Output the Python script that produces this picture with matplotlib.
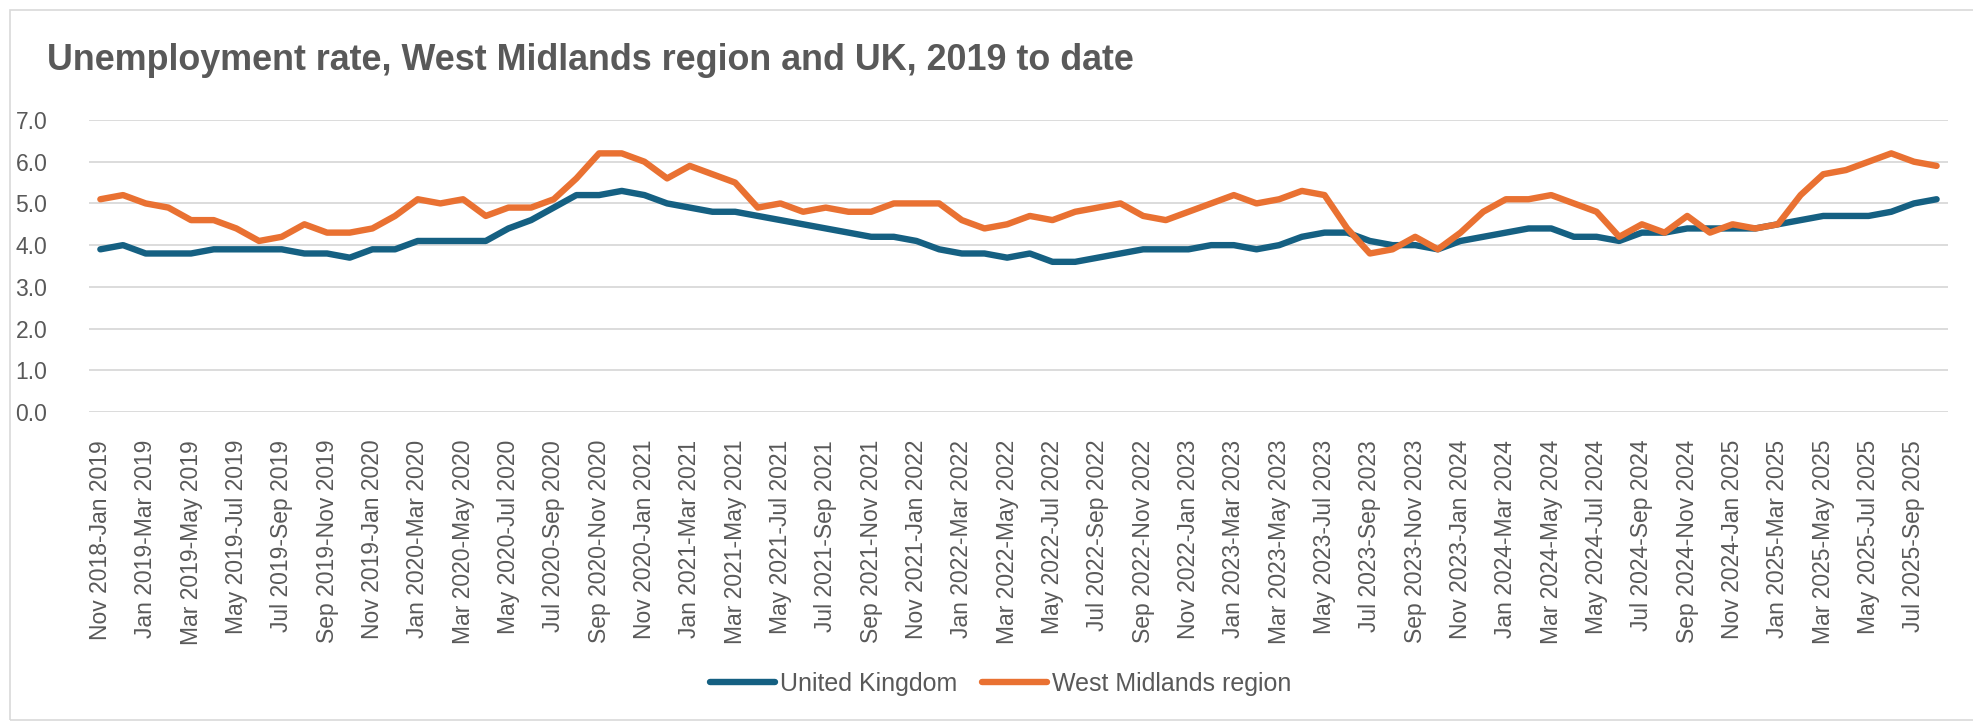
import numpy as np
import matplotlib
matplotlib.use("Agg")
import matplotlib.pyplot as plt
from matplotlib.patches import Rectangle

plt.rcParams['font.family'] = ['Liberation Sans', 'DejaVu Sans']

# rolling three-month periods, Nov 2018-Jan 2019 to Aug 2025-Oct 2025
months = ['Jan', 'Feb', 'Mar', 'Apr', 'May', 'Jun',
          'Jul', 'Aug', 'Sep', 'Oct', 'Nov', 'Dec']
periods = []
for k in range(82):
    m0 = 10 + k  # Nov 2018 is month index 10 of 2018
    y0, s0 = 2018 + m0 // 12, m0 % 12
    m1 = m0 + 2
    y1, s1 = 2018 + m1 // 12, m1 % 12
    periods.append(f"{months[s0]} {y0}-{months[s1]} {y1}")

uk = [3.9, 4.0, 3.8, 3.8, 3.8, 3.9, 3.9, 3.9, 3.9, 3.8,
      3.8, 3.7, 3.9, 3.9, 4.1, 4.1, 4.1, 4.1, 4.4, 4.6,
      4.9, 5.2, 5.2, 5.3, 5.2, 5.0, 4.9, 4.8, 4.8, 4.7,
      4.6, 4.5, 4.4, 4.3, 4.2, 4.2, 4.1, 3.9, 3.8, 3.8,
      3.7, 3.8, 3.6, 3.6, 3.7, 3.8, 3.9, 3.9, 3.9, 4.0,
      4.0, 3.9, 4.0, 4.2, 4.3, 4.3, 4.1, 4.0, 4.0, 3.9,
      4.1, 4.2, 4.3, 4.4, 4.4, 4.2, 4.2, 4.1, 4.3, 4.3,
      4.4, 4.4, 4.4, 4.4, 4.5, 4.6, 4.7, 4.7, 4.7, 4.8,
      5.0, 5.1]

west_midlands = [5.1, 5.2, 5.0, 4.9, 4.6, 4.6, 4.4, 4.1, 4.2, 4.5,
                 4.3, 4.3, 4.4, 4.7, 5.1, 5.0, 5.1, 4.7, 4.9, 4.9,
                 5.1, 5.6, 6.2, 6.2, 6.0, 5.6, 5.9, 5.7, 5.5, 4.9,
                 5.0, 4.8, 4.9, 4.8, 4.8, 5.0, 5.0, 5.0, 4.6, 4.4,
                 4.5, 4.7, 4.6, 4.8, 4.9, 5.0, 4.7, 4.6, 4.8, 5.0,
                 5.2, 5.0, 5.1, 5.3, 5.2, 4.4, 3.8, 3.9, 4.2, 3.9,
                 4.3, 4.8, 5.1, 5.1, 5.2, 5.0, 4.8, 4.2, 4.5, 4.3,
                 4.7, 4.3, 4.5, 4.4, 4.5, 5.2, 5.7, 5.8, 6.0, 6.2,
                 6.0, 5.9]

grey = '#595959'
x = np.arange(len(periods))

fig = plt.figure(figsize=(19.74, 7.25), dpi=100)
ax = fig.add_axes([0.0451, 0.4317, 0.9417, 0.4028])

ax.plot(x, uk, color='#156082', lw=4.6, solid_joinstyle='round',
        solid_capstyle='round', label='United Kingdom', zorder=3)
ax.plot(x, west_midlands, color='#E97132', lw=4.6, solid_joinstyle='round',
        solid_capstyle='round', label='West Midlands region', zorder=4)

ax.set_xlim(-0.5, len(periods) - 0.5)
ax.set_ylim(0, 7)
ax.set_yticks(np.arange(0, 8, 1))
ax.set_yticklabels([f"{v:.1f}" for v in range(8)])
ax.yaxis.grid(True, color='#D9D9D9', lw=1.3)
ax.set_axisbelow(True)
for s in ax.spines.values():
    s.set_visible(False)

ax.set_xticks(x[::2])
ax.set_xticklabels(periods[::2], rotation=90, fontsize=16.5, color=grey)
ax.tick_params(axis='x', length=0, pad=20)
ax.tick_params(axis='y', length=0, pad=30, labelsize=16.5, labelcolor=grey)

fig.text(0.0238, 0.917, 'Unemployment rate, West Midlands region and UK, 2019 to date',
         fontsize=25.8, fontweight='bold', color=grey, va='center', ha='left')

fig.legend(loc='center', bbox_to_anchor=(0.507, 0.0566), ncol=2, frameon=False,
           fontsize=18, handlelength=2.6, handletextpad=0.2, columnspacing=1.0,
           labelcolor=grey)

fig.patches.append(Rectangle((10 / 1974, 5 / 725), 1.2, 1 - 15 / 725,
                             transform=fig.transFigure, fill=False,
                             edgecolor='#D9D9D9', lw=1.2))

fig.savefig('out.png', dpi=100)
